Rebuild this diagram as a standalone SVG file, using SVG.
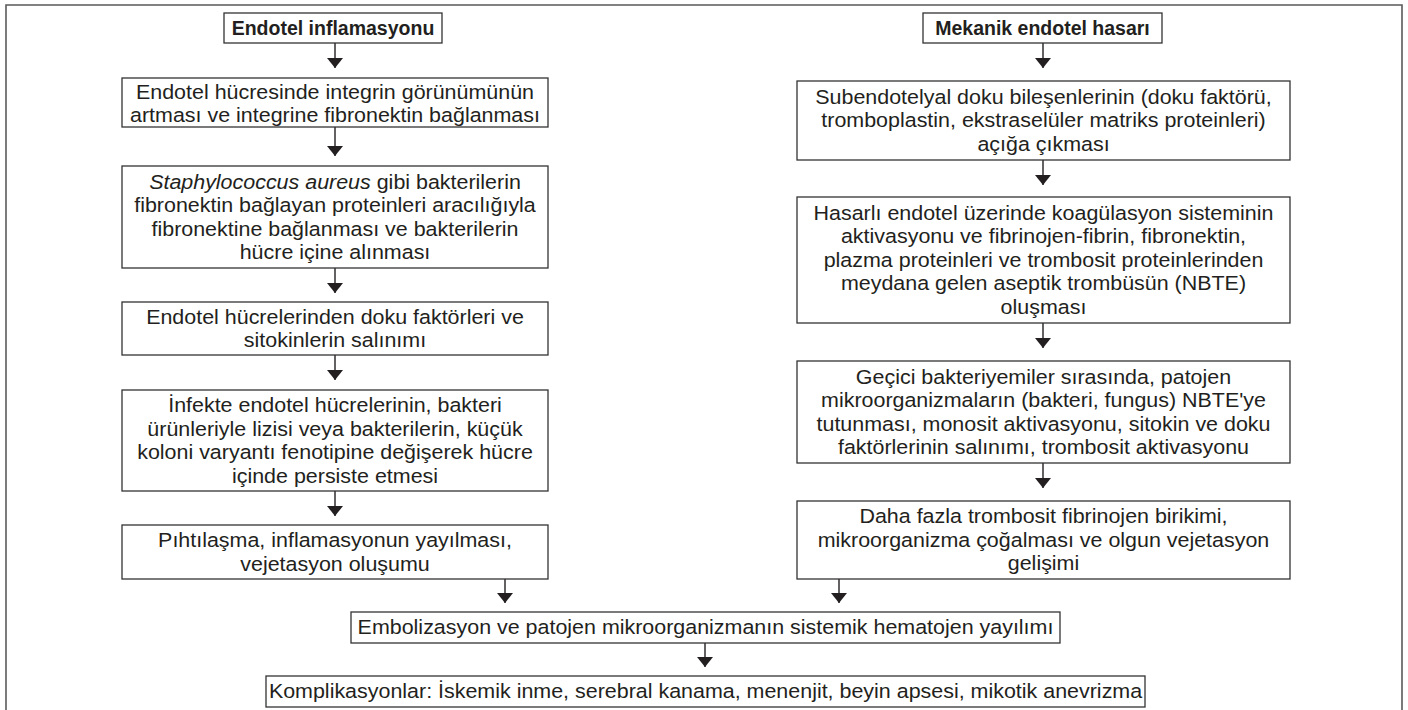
<svg xmlns="http://www.w3.org/2000/svg" width="1408" height="710" viewBox="0 0 1408 710">
<defs>
<style>
.frame{fill:none;stroke:#5a5a5a;stroke-width:1.6}
.box{fill:#fff;stroke:#333;stroke-width:1.3}
.t{font-family:"Liberation Sans",Arial,Helvetica,sans-serif;font-size:19.5px;fill:#231f20;text-anchor:middle}
.b{font-weight:bold}
.conn line{stroke:#231f20;stroke-width:1.4}
</style>
<marker id="ah" viewBox="0 -8 10 16" refX="10" refY="0" markerWidth="10" markerHeight="16" markerUnits="userSpaceOnUse" orient="auto">
<path d="M0,-8 L10,0 L0,8 Z" fill="#231f20"/>
</marker>
</defs>
<rect width="1408" height="710" fill="#fff"/>
<path class="frame" d="M6,714 V5 H1402 V714"/>

<g id="connectors" class="conn">
<line x1="335" y1="43" x2="335" y2="68" marker-end="url(#ah)"/>
<line x1="335" y1="127" x2="335" y2="156" marker-end="url(#ah)"/>
<line x1="335" y1="268" x2="335" y2="293" marker-end="url(#ah)"/>
<line x1="335" y1="355" x2="335" y2="380" marker-end="url(#ah)"/>
<line x1="335" y1="491" x2="335" y2="516" marker-end="url(#ah)"/>
<line x1="505" y1="579" x2="505" y2="603" marker-end="url(#ah)"/>
<line x1="1043" y1="43" x2="1043" y2="68" marker-end="url(#ah)"/>
<line x1="1043" y1="160" x2="1043" y2="185" marker-end="url(#ah)"/>
<line x1="1043" y1="323" x2="1043" y2="348" marker-end="url(#ah)"/>
<line x1="1043" y1="463" x2="1043" y2="488" marker-end="url(#ah)"/>
<line x1="839" y1="579" x2="839" y2="603" marker-end="url(#ah)"/>
<line x1="705" y1="643" x2="705" y2="667" marker-end="url(#ah)"/>
</g>

<g id="n-endotel-inflamasyonu">
<rect class="box" x="224" y="13" width="218" height="30"/>
<text class="t b" x="333" y="35">Endotel inflamasyonu</text>
</g>

<g id="n-integrin">
<rect class="box" x="122" y="78" width="426" height="49"/>
<g transform="translate(335,0) scale(1.1,1)">
<text class="t" x="0" y="99">Endotel hücresinde integrin görünümünün</text>
<text class="t" x="0" y="122">artması ve integrine fibronektin bağlanması</text>
</g>
</g>

<g id="n-staphylococcus">
<rect class="box" x="122" y="166" width="426" height="102"/>
<g transform="translate(335,0) scale(1.1,1)">
<text class="t" x="0" y="188.75"><tspan font-style="italic">Staphylococcus aureus</tspan> gibi bakterilerin</text>
<text class="t" x="0" y="212.25">fibronektin bağlayan proteinleri aracılığıyla</text>
<text class="t" x="0" y="235.75">fibronektine bağlanması ve bakterilerin</text>
<text class="t" x="0" y="259.25">hücre içine alınması</text>
</g>
</g>

<g id="n-doku-faktorleri">
<rect class="box" x="122" y="302" width="426" height="53"/>
<g transform="translate(335,0) scale(1.1,1)">
<text class="t" x="0" y="323.75">Endotel hücrelerinden doku faktörleri ve</text>
<text class="t" x="0" y="347.25">sitokinlerin salınımı</text>
</g>
</g>

<g id="n-infekte">
<rect class="box" x="122" y="390" width="426" height="101"/>
<g transform="translate(335,0) scale(1.1,1)">
<text class="t" x="0" y="412.25">İnfekte endotel hücrelerinin, bakteri</text>
<text class="t" x="0" y="435.75">ürünleriyle lizisi veya bakterilerin, küçük</text>
<text class="t" x="0" y="459.25">koloni varyantı fenotipine değişerek hücre</text>
<text class="t" x="0" y="482.75">içinde persiste etmesi</text>
</g>
</g>

<g id="n-pihtilasma">
<rect class="box" x="122" y="525" width="426" height="54"/>
<g transform="translate(335,0) scale(1.1,1)">
<text class="t" x="0" y="547.25">Pıhtılaşma, inflamasyonun yayılması,</text>
<text class="t" x="0" y="570.75">vejetasyon oluşumu</text>
</g>
</g>

<g id="n-mekanik">
<rect class="box" x="923" y="13" width="239" height="30"/>
<text class="t b" x="1042.5" y="35">Mekanik endotel hasarı</text>
</g>

<g id="n-subendotelyal">
<rect class="box" x="797" y="81" width="493" height="79"/>
<g transform="translate(1043.5,0) scale(1.1,1)">
<text class="t" x="0" y="104">Subendotelyal doku bileşenlerinin (doku faktörü,</text>
<text class="t" x="0" y="127.5">tromboplastin, ekstraselüler matriks proteinleri)</text>
<text class="t" x="0" y="151">açığa çıkması</text>
</g>
</g>

<g id="n-hasarli">
<rect class="box" x="797" y="197" width="493" height="126"/>
<g transform="translate(1043.5,0) scale(1.1,1)">
<text class="t" x="0" y="220">Hasarlı endotel üzerinde koagülasyon sisteminin</text>
<text class="t" x="0" y="243.5">aktivasyonu ve fibrinojen-fibrin, fibronektin,</text>
<text class="t" x="0" y="267">plazma proteinleri ve trombosit proteinlerinden</text>
<text class="t" x="0" y="290.5">meydana gelen aseptik trombüsün (NBTE)</text>
<text class="t" x="0" y="314">oluşması</text>
</g>
</g>

<g id="n-gecici">
<rect class="box" x="797" y="361" width="493" height="102"/>
<g transform="translate(1043.5,0) scale(1.1,1)">
<text class="t" x="0" y="383.75">Geçici bakteriyemiler sırasında, patojen</text>
<text class="t" x="0" y="407.25">mikroorganizmaların (bakteri, fungus) NBTE'ye</text>
<text class="t" x="0" y="430.75">tutunması, monosit aktivasyonu, sitokin ve doku</text>
<text class="t" x="0" y="454.25">faktörlerinin salınımı, trombosit aktivasyonu</text>
</g>
</g>

<g id="n-daha-fazla">
<rect class="box" x="797" y="501" width="493" height="78"/>
<g transform="translate(1043.5,0) scale(1.1,1)">
<text class="t" x="0" y="523.5">Daha fazla trombosit fibrinojen birikimi,</text>
<text class="t" x="0" y="547">mikroorganizma çoğalması ve olgun vejetasyon</text>
<text class="t" x="0" y="570.5">gelişimi</text>
</g>
</g>

<g id="n-embolizasyon">
<rect class="box" x="351" y="612" width="709" height="31"/>
<g transform="translate(705.5,0) scale(1.1,1)">
<text class="t" x="0" y="634.5">Embolizasyon ve patojen mikroorganizmanın sistemik hematojen yayılımı</text>
</g>
</g>

<g id="n-komplikasyonlar">
<rect class="box" x="266" y="676" width="879" height="31"/>
<g transform="translate(705.5,0) scale(1.1,1)">
<text class="t" x="0" y="698.5">Komplikasyonlar: İskemik inme, serebral kanama, menenjit, beyin apsesi, mikotik anevrizma</text>
</g>
</g>
</svg>
